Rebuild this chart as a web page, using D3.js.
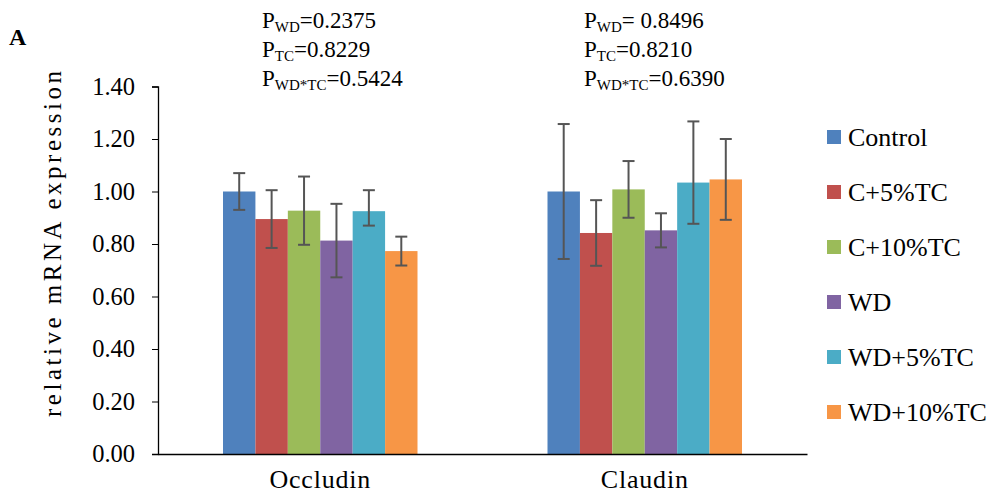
<!DOCTYPE html>
<html>
<head>
<meta charset="UTF-8">
<script src="https://cdn.jsdelivr.net/npm/d3@7"></script>
<style>
  body{margin:0;background:#fff;}
  svg text{font-family:'Liberation Serif',serif !important;fill:#000;}
</style>
</head>
<body>
<div id="chart"></div>
<script>
var genes=['Occludin','Claudin'];
var groups=['Control','C+5%TC','C+10%TC','WD','WD+5%TC','WD+10%TC'];
var colors=['#4F81BD','#C0504D','#9BBB59','#8064A2','#4BACC6','#F79646'];
// mean values per gene, one entry per group
var occludinMean=[1.00,0.895,0.927,0.813,0.925,0.773];
var occludinErrUp=[0.07,0.11,0.13,0.14,0.08,0.055];
var occludinErrDown=[0.07,0.11,0.13,0.14,0.055,0.055];
var claudinMean=[1.00,0.842,1.008,0.852,1.034,1.046];
var claudinErrUp=[0.257,0.125,0.108,0.065,0.233,0.154];
var claudinErrDown=[0.257,0.125,0.108,0.065,0.157,0.154];
var yTicks=[0,0.2,0.4,0.6,0.8,1.0,1.2,1.4];
var pvals=[
  [['WD','=0.2375'],['TC','=0.8229'],['WD*TC','=0.5424']],
  [['WD','= 0.8496'],['TC','=0.8210'],['WD*TC','=0.6390']]
];

var W=995,H=504;
var mLeft=158,mRight=807,mTop=86.5,mBottom=454;
var serif="'Liberation Serif',serif";

var svg=d3.select('#chart').append('svg').attr('width',W).attr('height',H)
  .attr('font-family',serif);

var x0=d3.scaleBand().domain(genes).range([mLeft,mRight]).paddingInner(0).paddingOuter(0);
var x1=d3.scaleBand().domain(groups).range([65,x0.bandwidth()-65]).padding(0);
var y=d3.scaleLinear().domain([0,1.4]).range([mBottom,mTop]);

var data=[];
genes.forEach(function(g,gi){
  var m=gi==0?occludinMean:claudinMean;
  var eu=gi==0?occludinErrUp:claudinErrUp;
  var ed=gi==0?occludinErrDown:claudinErrDown;
  groups.forEach(function(k,i){
    data.push({gene:g,group:k,v:m[i],up:eu[i],down:ed[i],c:colors[i]});
  });
});

// y axis
var yAxis=d3.axisLeft(y).tickValues(yTicks).tickSize(6).tickPadding(17)
  .tickFormat(d3.format('.2f'));
var ya=svg.append('g').attr('transform','translate('+mLeft+',0)').call(yAxis)
  .attr('font-family',serif).attr('font-size',24.5);
ya.select('.domain').attr('stroke','#000').attr('stroke-width',1.3);
ya.selectAll('.tick line').attr('stroke','#000');
ya.selectAll('.tick text').attr('fill','#000');

// bars
svg.selectAll('rect.bar').data(data).enter().append('rect')
  .attr('class','bar')
  .attr('x',function(d){return x0(d.gene)+x1(d.group);})
  .attr('y',function(d){return y(d.v);})
  .attr('width',x1.bandwidth())
  .attr('height',function(d){return y(0)-y(d.v);})
  .attr('fill',function(d){return d.c;});

// error bars
function cx(d){return x0(d.gene)+x1(d.group)+x1.bandwidth()/2;}
var eb=svg.selectAll('g.err').data(data).enter().append('g').attr('class','err')
  .attr('stroke','#555').attr('stroke-width',2);
eb.append('line')
  .attr('x1',cx).attr('x2',cx)
  .attr('y1',function(d){return y(d.v+d.up);})
  .attr('y2',function(d){return y(d.v-d.down);});
eb.append('line')
  .attr('x1',function(d){return cx(d)-6;}).attr('x2',function(d){return cx(d)+6;})
  .attr('y1',function(d){return y(d.v+d.up);}).attr('y2',function(d){return y(d.v+d.up);});
eb.append('line')
  .attr('x1',function(d){return cx(d)-6;}).attr('x2',function(d){return cx(d)+6;})
  .attr('y1',function(d){return y(d.v-d.down);}).attr('y2',function(d){return y(d.v-d.down);});

// x axis
var xAxis=d3.axisBottom(x0).tickSize(0).tickPadding(16);
var xa=svg.append('g').attr('transform','translate(0,'+mBottom+')').call(xAxis)
  .attr('font-family',serif).attr('font-size',26);
xa.select('.domain').attr('stroke','#000').attr('stroke-width',1.5);
xa.selectAll('.tick text').style('letter-spacing','0.8px').attr('fill','#000');

// y label
svg.append('text').attr('transform','translate(61,417) rotate(-90)')
  .attr('text-anchor','start').attr('font-size',25)
  .attr('textLength',346).attr('lengthAdjust','spacing')
  .text('relative mRNA expression');

// panel letter
svg.append('text').attr('x',9).attr('y',45).attr('font-size',24).attr('font-weight','bold').text('A');

// p-value annotations
var px=[262,584];
pvals.forEach(function(lines,gi){
  lines.forEach(function(l,li){
    var t=svg.append('text').attr('x',px[gi]).attr('y',28+li*29).attr('font-size',23);
    t.append('tspan').text('P');
    t.append('tspan').attr('dy',4).attr('font-size',15).text(l[0]);
    t.append('tspan').attr('dy',-4).text(l[1]);
  });
});

// legend
var lg=svg.selectAll('g.leg').data(groups).enter().append('g').attr('class','leg')
  .attr('transform',function(d,i){return 'translate(827,'+(137+i*55)+')';});
lg.append('rect').attr('x',0).attr('y',-7).attr('width',14).attr('height',14)
  .attr('fill',function(d,i){return colors[i];});
lg.append('text').attr('x',21).attr('y',9).attr('font-size',26).text(function(d){return d;});
</script>
</body>
</html>
